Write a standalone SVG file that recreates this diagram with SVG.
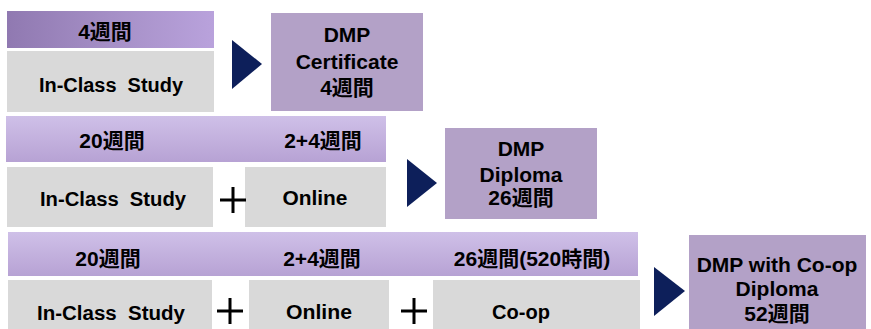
<svg xmlns="http://www.w3.org/2000/svg" width="871" height="329" viewBox="0 0 871 329">
  <defs>
    <linearGradient id="barDark" x1="0" y1="0" x2="1" y2="0">
      <stop offset="0" stop-color="#9079b1"/>
      <stop offset="0.5" stop-color="#a58fc6"/>
      <stop offset="1" stop-color="#b9a2dc"/>
    </linearGradient>
    <linearGradient id="barLight" x1="0" y1="0" x2="0" y2="1">
      <stop offset="0" stop-color="#cfc0e8"/>
      <stop offset="1" stop-color="#b7a2d4"/>
    </linearGradient>
    <style>
      .gray { fill: #d9d9d9; }
      .result { fill: #b3a1c7; }
      .arrow { fill: #0d1f5a; }
      .plus { stroke: #000; stroke-width: 3; fill: none; }
      text { font-family: "Liberation Sans", "Noto Sans CJK JP", sans-serif; font-weight: bold; fill: #000; text-anchor: middle; white-space: pre; }
      .lbl { font-size: 20px; }
      .bar { font-size: 21px; }
      .res { font-size: 21px; }
    </style>
  </defs>

  <!-- Row 1 -->
  <g id="row1-duration">
    <rect x="7" y="11" width="207" height="37" fill="url(#barDark)"/>
    <text class="bar" x="105" y="39">4週間</text>
  </g>
  <g id="row1-inclass">
    <rect class="gray" x="7" y="51" width="207" height="61"/>
    <text class="lbl" x="111" y="92" xml:space="preserve" textLength="144" lengthAdjust="spacingAndGlyphs">In-Class  Study</text>
  </g>
  <g id="row1-result">
    <rect class="result" x="271" y="13" width="152" height="98"/>
    <text class="res" x="347" y="42">DMP</text>
    <text class="res" x="347" y="69">Certificate</text>
    <text class="res" x="347" y="95">4週間</text>
  </g>

  <!-- Row 2 -->
  <g id="row2-duration">
    <rect x="6" y="116" width="380" height="46" fill="url(#barLight)"/>
    <text class="bar" x="112" y="148">20週間</text>
    <text class="bar" x="323" y="148">2+4週間</text>
  </g>
  <g id="row2-inclass">
    <rect class="gray" x="7" y="167" width="206" height="60"/>
    <text class="lbl" x="113" y="206" xml:space="preserve" textLength="146" lengthAdjust="spacingAndGlyphs">In-Class  Study</text>
  </g>
  <g id="row2-online">
    <rect class="gray" x="245" y="167" width="141" height="60"/>
    <text class="lbl" x="315" y="205" textLength="65" lengthAdjust="spacingAndGlyphs">Online</text>
  </g>
  <g id="row2-result">
    <rect class="result" x="445" y="128" width="152" height="91"/>
    <text class="res" x="521" y="156">DMP</text>
    <text class="res" x="521" y="182">Diploma</text>
    <text class="res" x="521" y="205">26週間</text>
  </g>

  <!-- Row 3 -->
  <g id="row3-duration">
    <rect x="8" y="232" width="630" height="44" fill="url(#barLight)"/>
    <text class="bar" x="108" y="266">20週間</text>
    <text class="bar" x="322" y="266">2+4週間</text>
    <text class="bar" x="532" y="266">26週間(520時間)</text>
  </g>
  <g id="row3-inclass">
    <rect class="gray" x="8" y="280" width="204" height="49"/>
    <text class="lbl" x="111" y="320" xml:space="preserve" textLength="148" lengthAdjust="spacingAndGlyphs">In-Class  Study</text>
  </g>
  <g id="row3-online">
    <rect class="gray" x="249" y="280" width="140" height="49"/>
    <text class="lbl" x="319" y="319" textLength="66" lengthAdjust="spacingAndGlyphs">Online</text>
  </g>
  <g id="row3-coop">
    <rect class="gray" x="433" y="280" width="207" height="49"/>
    <text class="lbl" x="521" y="319" textLength="58" lengthAdjust="spacingAndGlyphs">Co-op</text>
  </g>
  <g id="row3-result">
    <rect class="result" x="689" y="235" width="177" height="94"/>
    <text class="res" x="777" y="272">DMP with Co-op</text>
    <text class="res" x="777" y="296">Diploma</text>
    <text class="res" x="777" y="321">52週間</text>
  </g>

  <!-- Connectors -->
  <g id="connectors">
    <polygon class="arrow" points="232,40 262,64 232,89"/>
    <polygon class="arrow" points="407,159 437,183 407,207"/>
    <polygon class="arrow" points="654,267 685,291 654,316"/>
    <path class="plus" d="M220,200 H246 M233,187 V213"/>
    <path class="plus" d="M217,311 H243 M230,298 V324"/>
    <path class="plus" d="M401,311 H427 M414,298 V324"/>
  </g>
</svg>
